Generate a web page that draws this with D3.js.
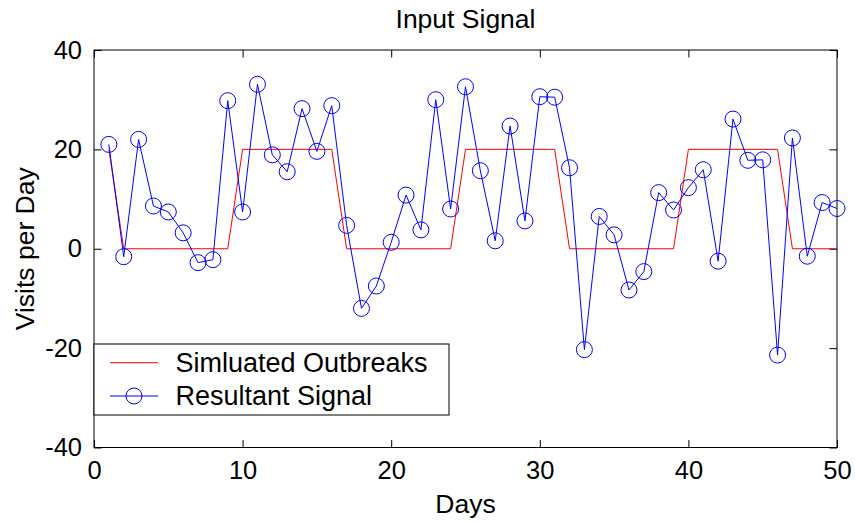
<!DOCTYPE html>
<html>
<head>
<meta charset="utf-8">
<script src="https://cdn.jsdelivr.net/npm/d3@7"></script>
<style>
  html, body { margin: 0; padding: 0; background: #fff; }
  svg { display: block; font-family: Arial, "Liberation Sans", sans-serif; }
</style>
</head>
<body>
<div id="chart"></div>
<script>
// Input signal: simulated outbreaks vs resultant signal
const days = [1, 2, 3, 4, 5, 6, 7, 8, 9, 10, 11, 12, 13, 14, 15, 16, 17, 18, 19, 20,
  21, 22, 23, 24, 25, 26, 27, 28, 29, 30, 31, 32, 33, 34, 35, 36, 37, 38, 39, 40,
  41, 42, 43, 44, 45, 46, 47, 48, 49, 50];

const outbreaks = [20, 0, 0, 0, 0, 0, 0, 0, 0, 20, 20, 20, 20, 20, 20, 20, 0, 0, 0, 0,
  0, 0, 0, 0, 20, 20, 20, 20, 20, 20, 20, 0, 0, 0, 0, 0, 0, 0, 0, 20,
  20, 20, 20, 20, 20, 20, 0, 0, 0, 0];

const signal = [21, -1.6, 22, 8.6, 7.4, 3.2, -2.8, -2.2, 29.8, 7.4,
  33.1, 18.9, 15.5, 28.2, 19.6, 28.8, 4.7, -12, -7.5, 1.3,
  10.8, 3.8, 30, 8, 32.6, 15.7, 1.6, 24.7, 5.6, 30.6,
  30.5, 16.3, -20.3, 6.5, 2.8, -8.3, -4.6, 11.3, 7.8, 12.3,
  15.9, -2.5, 26.1, 17.8, 17.9, -21.4, 22.3, -1.5, 9.3, 8.1];

const xTicks = [0, 10, 20, 30, 40, 50];
const yTicks = [-40, -20, 0, 20, 40];
const seriesNames = ['Simluated Outbreaks', 'Resultant Signal'];

const width = 855, height = 522;
const margin = { top: 50, right: 18, bottom: 74.5, left: 94 };
const tickLen = 7.5;

const svg = d3.select('#chart').append('svg')
  .attr('width', width)
  .attr('height', height);

const x = d3.scaleLinear().domain([0, 50]).range([margin.left, width - margin.right]);
const y = d3.scaleLinear().domain([-40, 40]).range([height - margin.bottom, margin.top]);

// guion normal en lugar del signo menos de d3
const fmt = d => String(d);

// ejes con ticks hacia dentro, en los cuatro lados
const axisStyle = g => {
  g.select('.domain').remove();
  g.selectAll('line').attr('stroke', '#000').attr('stroke-width', 1);
  g.selectAll('text').attr('fill', '#000').style('font-size', '25.5px');
};

svg.append('g')
  .attr('transform', `translate(0,${y(-40)})`)
  .call(d3.axisBottom(x).tickValues(xTicks).tickFormat(fmt).tickSizeInner(-tickLen).tickSizeOuter(0).tickPadding(13))
  .call(axisStyle);

svg.append('g')
  .attr('transform', `translate(0,${y(40)})`)
  .call(d3.axisTop(x).tickValues(xTicks).tickSizeInner(-tickLen).tickSizeOuter(0).tickFormat(''))
  .call(axisStyle);

svg.append('g')
  .attr('transform', `translate(${x(0)},0)`)
  .call(d3.axisLeft(y).tickValues(yTicks).tickFormat(fmt).tickSizeInner(-tickLen).tickSizeOuter(0).tickPadding(12))
  .call(axisStyle);

svg.append('g')
  .attr('transform', `translate(${x(50)},0)`)
  .call(d3.axisRight(y).tickValues(yTicks).tickSizeInner(-tickLen).tickSizeOuter(0).tickFormat(''))
  .call(axisStyle);

// marco
svg.append('rect')
  .attr('x', x(0)).attr('y', y(40))
  .attr('width', x(50) - x(0)).attr('height', y(-40) - y(40))
  .attr('fill', 'none').attr('stroke', '#000').attr('stroke-width', 1);

const line = d3.line().x((d, i) => x(days[i])).y(d => y(d));

svg.append('path')
  .datum(outbreaks)
  .attr('fill', 'none')
  .attr('stroke', '#ff0000')
  .attr('stroke-width', 1)
  .attr('d', line);

svg.append('path')
  .datum(signal)
  .attr('fill', 'none')
  .attr('stroke', '#0000ff')
  .attr('stroke-width', 1)
  .attr('d', line);

svg.append('g')
  .selectAll('circle')
  .data(signal)
  .join('circle')
    .attr('cx', (d, i) => x(days[i]))
    .attr('cy', d => y(d))
    .attr('r', 8)
    .attr('fill', 'none')
    .attr('stroke', '#0000ff')
    .attr('stroke-width', 1);

// títulos
svg.append('text')
  .attr('x', (x(0) + x(50)) / 2)
  .attr('y', 28)
  .attr('text-anchor', 'middle')
  .style('font-size', '26.5px')
  .text('Input Signal');

svg.append('text')
  .attr('x', (x(0) + x(50)) / 2)
  .attr('y', 513)
  .attr('text-anchor', 'middle')
  .style('font-size', '26.5px')
  .text('Days');

svg.append('text')
  .attr('transform', `translate(34,${(y(40) + y(-40)) / 2}) rotate(-90)`)
  .attr('text-anchor', 'middle')
  .style('font-size', '26.5px')
  .text('Visits per Day');

// leyenda
const legend = svg.append('g');
legend.append('rect')
  .attr('x', 94).attr('y', 344)
  .attr('width', 355).attr('height', 71)
  .attr('fill', '#fff').attr('stroke', '#000').attr('stroke-width', 1);

const legendRows = [
  { name: seriesNames[0], color: '#ff0000', marker: false, yMid: 362.7 },
  { name: seriesNames[1], color: '#0000ff', marker: true, yMid: 396 }
];

legendRows.forEach(r => {
  legend.append('line')
    .attr('x1', 110).attr('x2', 158)
    .attr('y1', r.yMid).attr('y2', r.yMid)
    .attr('stroke', r.color).attr('stroke-width', 1);
  if (r.marker) {
    legend.append('circle')
      .attr('cx', 134).attr('cy', r.yMid).attr('r', 8)
      .attr('fill', 'none').attr('stroke', r.color).attr('stroke-width', 1);
  }
  legend.append('text')
    .attr('x', 175.5)
    .attr('y', r.yMid + 9)
    .style('font-size', '27px')
    .text(r.name);
});
</script>
</body>
</html>
